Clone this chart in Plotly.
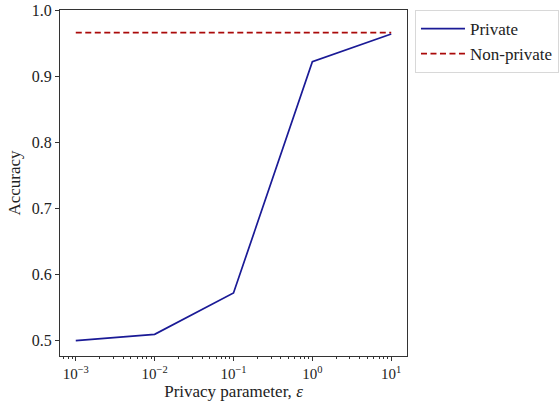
import plotly.graph_objects as go

epsilons = [0.001, 0.01, 0.1, 1, 10]
private_acc = [0.500, 0.5095, 0.572, 0.922, 0.964]
nonprivate_acc = [0.966, 0.966, 0.966, 0.966, 0.966]
series_names = ["Private", "Non-private"]
y_ticks = [0.5, 0.6, 0.7, 0.8, 0.9, 1.0]
x_ticks = [0.001, 0.01, 0.1, 1, 10]
x_tick_labels = ["10<sup>−3</sup>", "10<sup>−2</sup>", "10<sup>−1</sup>", "10<sup>0</sup>", "10<sup>1</sup>"]

minor_x = [m * d for d in [0.0001, 0.001, 0.01, 0.1, 1, 10] for m in range(2, 10)]

FONT = "Liberation Serif"

fig = go.Figure()
fig.add_trace(go.Scatter(x=epsilons, y=private_acc, mode="lines", name=series_names[0],
                         line=dict(color="#1a1a96", width=1.7)))
fig.add_trace(go.Scatter(x=epsilons, y=nonprivate_acc, mode="lines", name=series_names[1],
                         line=dict(color="#aa0a0a", width=1.7, dash="6px,3.5px")))

fig.update_layout(
    width=560, height=408,
    margin=dict(l=60, r=153, t=10, b=52, autoexpand=False),
    plot_bgcolor="white", paper_bgcolor="white",
    font=dict(family=FONT, size=15, color="#222"),
    legend=dict(x=1.023, y=1.0, xanchor="left", yanchor="top",
                bordercolor="#d8d8d8", borderwidth=1, bgcolor="white",
                font=dict(family=FONT, size=17, color="#222"),
                itemwidth=44, tracegroupgap=0),
    showlegend=True,
)
fig.update_xaxes(
    type="log", range=[-3.2, 1.2],
    tickmode="array", tickvals=x_ticks, ticktext=x_tick_labels,
    ticks="outside", ticklen=4, tickcolor="#333",
    showline=True, linecolor="#333", linewidth=1, mirror=True,
    showgrid=False, zeroline=False,
    tickfont=dict(family=FONT, size=15),
    minor=dict(tickmode="array", tickvals=minor_x, ticks="outside", ticklen=2,
               tickcolor="#333", showgrid=False),
    title=dict(text="Privacy parameter, <i>ε</i>", font=dict(family=FONT, size=17), standoff=4),
)
fig.update_yaxes(
    range=[0.4767, 1.0003],
    tickmode="array", tickvals=y_ticks, ticktext=[f"{v:.1f}" for v in y_ticks],
    ticks="outside", ticklen=4, tickcolor="#333",
    showline=True, linecolor="#333", linewidth=1, mirror=True,
    showgrid=False, zeroline=False,
    tickfont=dict(family=FONT, size=16),
    title=dict(text="Accuracy", font=dict(family=FONT, size=17), standoff=6),
)

fig.write_html("out.html",
               config={"displayModeBar": False},
               post_script="document.body.style.margin='0';document.body.style.overflow='hidden';")
